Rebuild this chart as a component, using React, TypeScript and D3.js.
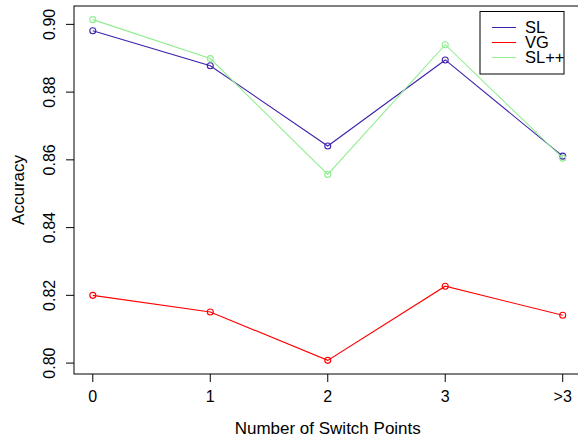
import React, { useEffect, useRef } from "react";
import * as d3 from "d3";

const categories = ["0", "1", "2", "3", ">3"];
const slValues = [0.8981, 0.8878, 0.8641, 0.8895, 0.8611];
const vgValues = [0.82, 0.8151, 0.8008, 0.8227, 0.8141];
const slppValues = [0.9014, 0.8899, 0.8557, 0.894, 0.8605];
const yTicks = [0.8, 0.82, 0.84, 0.86, 0.88, 0.9];

const seriesList = [
  { name: "SL", values: slValues, color: "#3f20ae" },
  { name: "VG", values: vgValues, color: "#ff0000" },
  { name: "SL++", values: slppValues, color: "#90ee90" },
];

const W = 578;
const H = 439;
const FONT = "'Liberation Sans', Arial, Helvetica, sans-serif";

export default function App() {
  const ref = useRef<SVGSVGElement>(null);

  useEffect(() => {
    const svg = d3.select(ref.current);
    svg.selectAll("*").remove();

    const left = 74;
    const right = 581.5;
    const top = 6;
    const bottom = 374;

    // R-style 4% padding around the data range
    const n = categories.length;
    const xPad = (n - 1) * 0.04;
    const x = d3.scaleLinear().domain([-xPad, n - 1 + xPad]).range([left, right]);

    const all = [...slValues, ...vgValues, ...slppValues];
    const yMin = d3.min(all) as number;
    const yMax = d3.max(all) as number;
    const yPad = (yMax - yMin) * 0.04;
    const y = d3.scaleLinear().domain([yMin - yPad, yMax + yPad]).range([bottom, top]);

    // plot box
    svg
      .append("rect")
      .attr("x", left)
      .attr("y", top)
      .attr("width", right - left)
      .attr("height", bottom - top)
      .attr("fill", "none")
      .attr("stroke", "#000")
      .attr("stroke-width", 1);

    // y axis
    const yAxis = svg.append("g");
    yAxis
      .selectAll("line")
      .data(yTicks)
      .enter()
      .append("line")
      .attr("x1", left - 8)
      .attr("x2", left)
      .attr("y1", (d) => y(d))
      .attr("y2", (d) => y(d))
      .attr("stroke", "#000");
    yAxis
      .selectAll("text")
      .data(yTicks)
      .enter()
      .append("text")
      .attr("transform", (d) => `translate(55,${y(d)}) rotate(-90)`)
      .attr("text-anchor", "middle")
      .attr("font-family", FONT)
      .attr("font-size", 16)
      .text((d) => d3.format(".2f")(d));

    // x axis
    const xAxis = svg.append("g");
    xAxis
      .selectAll("line")
      .data(categories)
      .enter()
      .append("line")
      .attr("x1", (d, i) => x(i))
      .attr("x2", (d, i) => x(i))
      .attr("y1", bottom)
      .attr("y2", bottom + 8)
      .attr("stroke", "#000");
    xAxis
      .selectAll("text")
      .data(categories)
      .enter()
      .append("text")
      .attr("x", (d, i) => x(i))
      .attr("y", 402)
      .attr("text-anchor", "middle")
      .attr("font-family", FONT)
      .attr("font-size", 16)
      .text((d) => d);

    // axis titles
    svg
      .append("text")
      .attr("x", (left + right) / 2)
      .attr("y", 434)
      .attr("text-anchor", "middle")
      .attr("font-family", FONT)
      .attr("font-size", 17)
      .text("Number of Switch Points");
    svg
      .append("text")
      .attr("transform", `translate(23.5,${(top + bottom) / 2}) rotate(-90)`)
      .attr("text-anchor", "middle")
      .attr("font-family", FONT)
      .attr("font-size", 17)
      .text("Accuracy");

    // lines and points
    const line = d3
      .line<number>()
      .x((d, i) => x(i))
      .y((d) => y(d));

    seriesList.forEach((s) => {
      const g = svg.append("g");
      g.append("path")
        .attr("d", line(s.values))
        .attr("fill", "none")
        .attr("stroke", s.color)
        .attr("stroke-width", 1.1);
      g.selectAll("circle")
        .data(s.values)
        .enter()
        .append("circle")
        .attr("cx", (d, i) => x(i))
        .attr("cy", (d) => y(d))
        .attr("r", 3)
        .attr("fill", "none")
        .attr("stroke", s.color)
        .attr("stroke-width", 1.1);
    });

    // legend
    const legend = svg.append("g");
    legend
      .append("rect")
      .attr("x", 480)
      .attr("y", 11.5)
      .attr("width", 84)
      .attr("height", 62.5)
      .attr("fill", "#fff")
      .attr("stroke", "#000");
    seriesList.forEach((s, i) => {
      const ly = 27.5 + i * 15;
      legend
        .append("line")
        .attr("x1", 492)
        .attr("x2", 516)
        .attr("y1", ly)
        .attr("y2", ly)
        .attr("stroke", s.color);
      legend
        .append("text")
        .attr("x", 525)
        .attr("y", ly + 5)
        .attr("font-family", FONT)
        .attr("font-size", 16.5)
        .text(s.name);
    });
  }, []);

  return (
    <svg
      ref={ref}
      width={W}
      height={H}
      style={{ position: "fixed", left: 0, top: 0, background: "#fff" }}
    />
  );
}
